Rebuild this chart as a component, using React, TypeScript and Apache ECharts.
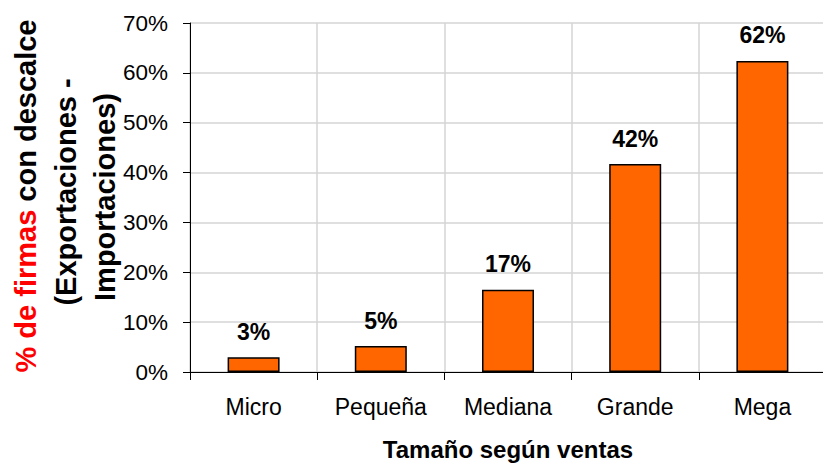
import React, { useEffect, useRef } from "react";
import * as echarts from "echarts";

const categories = ["Micro", "Pequeña", "Mediana", "Grande", "Mega"];
const values = [2.95, 5.2, 16.5, 41.7, 62.4];
const yTicks = [0, 10, 20, 30, 40, 50, 60, 70];
const yTitleLines = ["(Exportaciones -", "Importaciones)"];

const FONT = "Liberation Sans, Arial, sans-serif";

export default function App() {
  const ref = useRef<HTMLDivElement>(null);
  useEffect(() => {
    if (!ref.current) return;
    const chart = echarts.init(ref.current, null, { renderer: "svg" });
    const option = {
      animation: false,
      backgroundColor: "#ffffff",
      grid: {
        left: 190,
        top: 23,
        width: 636,
        height: 349,
        containLabel: false,
        outerBoundsMode: "none",
      },
      xAxis: {
        type: "category",
        data: categories,
        axisLine: { lineStyle: { color: "#000", width: 1 } },
        axisTick: { show: true, length: 8, lineStyle: { color: "#000" } },
        axisLabel: { color: "#000", fontSize: 23, fontFamily: FONT, margin: 23 },
        splitLine: { show: true, lineStyle: { color: "#d4d4d4", width: 1.5 } },
        name: "Tamaño según ventas",
        nameLocation: "middle",
        nameGap: 65,
        nameTextStyle: { color: "#000", fontSize: 24, fontWeight: "bold", fontFamily: FONT },
      },
      yAxis: {
        type: "value",
        min: yTicks[0],
        max: yTicks[yTicks.length - 1],
        interval: 10,
        axisLine: { show: true, lineStyle: { color: "#000", width: 1 } },
        axisTick: { show: true, inside: false, length: 7, lineStyle: { color: "#000" } },
        axisLabel: {
          color: "#000",
          fontSize: 22.5,
          fontFamily: FONT,
          margin: 22,
          formatter: (v: number) => v + "%",
        },
        splitLine: { show: true, lineStyle: { color: "#d4d4d4", width: 1.5 } },
      },
      series: [
        {
          type: "bar",
          data: values,
          barWidth: 52,
          itemStyle: { color: "#FF6600", borderColor: "#000", borderWidth: 1.5 },
          label: {
            show: true,
            position: "top",
            distance: 14,
            color: "#000",
            fontSize: 23,
            fontWeight: "bold",
            fontFamily: FONT,
            formatter: (p: any) => Math.round(p.value) + "%",
          },
        },
      ],
      graphic: [
        {
          type: "text",
          x: 26,
          y: 196,
          rotation: Math.PI / 2,
          style: {
            text: "{r|% de firmas} {b|con descalce}",
            textAlign: "center",
            textVerticalAlign: "middle",
            rich: {
              r: { fill: "#ff0000", fontSize: 29, fontWeight: "bold", fontFamily: FONT },
              b: { fill: "#000", fontSize: 29, fontWeight: "bold", fontFamily: FONT },
            },
            font: "bold 29px " + FONT,
          },
        },
        {
          type: "text",
          x: 66,
          y: 192,
          rotation: Math.PI / 2,
          style: {
            text: yTitleLines[0],
            textAlign: "center",
            textVerticalAlign: "middle",
            fill: "#000",
            font: "bold 29px " + FONT,
          },
        },
        {
          type: "text",
          x: 105,
          y: 197,
          rotation: Math.PI / 2,
          style: {
            text: yTitleLines[1],
            textAlign: "center",
            textVerticalAlign: "middle",
            fill: "#000",
            font: "bold 29px " + FONT,
          },
        },
      ],
    };
    chart.setOption(option as any);
    return () => chart.dispose();
  }, []);
  return <div ref={ref} style={{ width: 823, height: 463, position: "absolute", left: 0, top: 0 }} />;
}
